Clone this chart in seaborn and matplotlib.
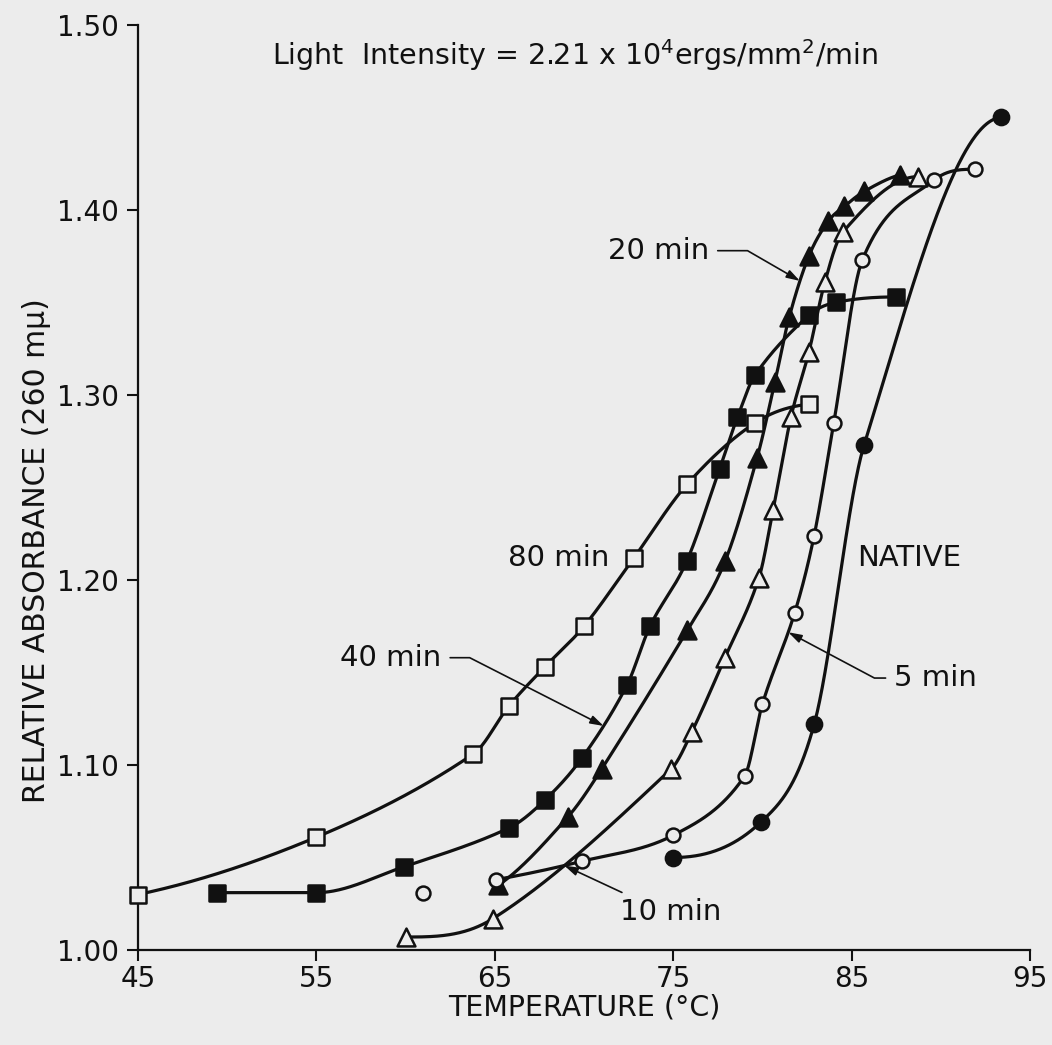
import numpy as np
import matplotlib
matplotlib.use("Agg")
import matplotlib.pyplot as plt
import seaborn as sns

# ---------------- data ----------------
temp_80 = [45.0, 55.0, 63.8, 65.8, 67.8, 70.0, 72.8, 75.8, 79.6, 82.6]
abs_80 = [1.030, 1.061, 1.106, 1.132, 1.153, 1.175, 1.212, 1.252, 1.285, 1.295]

temp_40 = [49.4, 55.0, 59.9, 65.8, 67.8, 69.9, 72.4, 73.7, 75.75, 77.6, 78.6, 79.6, 82.6, 84.1, 87.5]
abs_40 = [1.031, 1.031, 1.045, 1.066, 1.081, 1.104, 1.143, 1.175, 1.210, 1.260, 1.288, 1.311, 1.343, 1.350, 1.353]

temp_20 = [65.2, 69.1, 71.0, 75.8, 77.9, 79.7, 80.7, 81.5, 82.6, 83.7, 84.6, 85.7, 87.7]
abs_20 = [1.035, 1.072, 1.098, 1.173, 1.210, 1.266, 1.307, 1.342, 1.375, 1.394, 1.402, 1.410, 1.419]

temp_10 = [60.0, 64.9, 74.9, 76.05, 77.9, 79.8, 80.6, 81.6, 82.6, 83.5, 84.5, 88.7]
abs_10 = [1.007, 1.017, 1.098, 1.118, 1.158, 1.201, 1.238, 1.288, 1.323, 1.361, 1.388, 1.418]

temp_5 = [65.05, 69.9, 75.0, 79.0, 80.0, 81.8, 82.9, 84.0, 85.6, 89.6, 91.9]
abs_5 = [1.038, 1.048, 1.062, 1.094, 1.133, 1.182, 1.224, 1.285, 1.373, 1.416, 1.422]
temp_5_extra = [61.0]
abs_5_extra = [1.031]

temp_native = [75.0, 79.9, 82.9, 85.7, 93.4]
abs_native = [1.050, 1.069, 1.122, 1.273, 1.450]

x_ticks = [45, 55, 65, 75, 85, 95]
y_ticks = [1.00, 1.10, 1.20, 1.30, 1.40, 1.50]
y_tick_labels = ["1.00", "1.10", "1.20", "1.30", "1.40", "1.50"]


# ---------------- smooth monotone curve through the points ----------------
def smooth_curve(x, y, xs):
    """Monotone cubic Hermite: chord (cardinal) slopes inside, PCHIP-style
    slopes at the ends, Fritsch-Carlson limiting."""
    x = np.asarray(x, float)
    y = np.asarray(y, float)
    xs = np.asarray(xs, float)
    h = np.diff(x)
    d = np.diff(y) / h
    n = len(x)
    m = np.zeros(n)
    for k in range(1, n - 1):
        if d[k - 1] * d[k] <= 0:
            m[k] = 0.0
        else:
            m[k] = (y[k + 1] - y[k - 1]) / (x[k + 1] - x[k - 1])

    def end(h0, h1, d0, d1):
        v = ((2 * h0 + h1) * d0 - h0 * d1) / (h0 + h1)
        if np.sign(v) != np.sign(d0):
            v = 0.0
        elif np.sign(d0) != np.sign(d1) and abs(v) > abs(3 * d0):
            v = 3 * d0
        return v

    if n > 2:
        m[0] = end(h[0], h[1], d[0], d[1])
        m[-1] = end(h[-1], h[-2], d[-1], d[-2])
    else:
        m[:] = d[0]
    for k in range(n - 1):
        if d[k] == 0:
            m[k] = 0.0
            m[k + 1] = 0.0
            continue
        a = m[k] / d[k]
        b = m[k + 1] / d[k]
        s = a * a + b * b
        if s > 9:
            tau = 3 / np.sqrt(s)
            m[k] = tau * a * d[k]
            m[k + 1] = tau * b * d[k]
    idx = np.clip(np.searchsorted(x, xs) - 1, 0, n - 2)
    t = (xs - x[idx]) / h[idx]
    h00 = 2 * t**3 - 3 * t**2 + 1
    h10 = t**3 - 2 * t**2 + t
    h01 = -2 * t**3 + 3 * t**2
    h11 = t**3 - t**2
    return h00 * y[idx] + h10 * h[idx] * m[idx] + h01 * y[idx + 1] + h11 * h[idx] * m[idx + 1]


# ---------------- styling ----------------
sns.set_theme(style="ticks")
plt.rcParams["font.family"] = ["DejaVu Sans"]
BG = "#ececec"
INK = "#111111"

fig = plt.figure(figsize=(10.52, 10.45), dpi=100, facecolor=BG)
ax = fig.add_axes([0.1312, 0.0909, 0.8479, 0.8852])
ax.set_facecolor(BG)

series = [
    (temp_80, abs_80, "s", False, 125),
    (temp_40, abs_40, "s", True, 125),
    (temp_20, abs_20, "^", True, 165),
    (temp_10, abs_10, "^", False, 165),
    (temp_5, abs_5, "o", False, 100),
    (temp_native, abs_native, "o", True, 120),
]

for xs_, ys_, mk, filled, size in series:
    grid = np.linspace(xs_[0], xs_[-1], 600)
    sns.lineplot(x=grid, y=smooth_curve(xs_, ys_, grid), ax=ax, color=INK, lw=2.3,
                 estimator=None, sort=False, zorder=2)
    sns.scatterplot(x=xs_, y=ys_, ax=ax, marker=mk, s=size,
                    facecolor=INK if filled else BG, edgecolor=INK,
                    linewidth=1.8, zorder=3, clip_on=False)

sns.scatterplot(x=temp_5_extra, y=abs_5_extra, ax=ax, marker="o", s=100,
                facecolor=BG, edgecolor=INK, linewidth=1.8, zorder=3)

ax.set_xlim(45, 95)
ax.set_ylim(1.0, 1.5)
ax.set_xticks(x_ticks)
ax.set_yticks(y_ticks)
ax.set_yticklabels(y_tick_labels)
ax.tick_params(direction="out", length=8, width=1.5, labelsize=20, colors=INK)
ax.tick_params(axis="x", pad=3)
ax.tick_params(axis="y", pad=6)
for side in ["top", "right"]:
    ax.spines[side].set_visible(False)
for side in ["left", "bottom"]:
    ax.spines[side].set_linewidth(1.6)
    ax.spines[side].set_color(INK)
ax.grid(False)

ax.set_xlabel("TEMPERATURE (°C)", fontsize=20.5, color=INK, labelpad=0)
ax.set_ylabel("RELATIVE ABSORBANCE (260 mμ)", fontsize=21.5, color=INK)
ax.yaxis.set_label_coords(-0.098, 0.432)

# note at the top of the plot
ax.text(69.5, 1.484, r"Light  Intensity = 2.21 x 10$^4$ergs/mm$^2$/min",
        fontsize=20.5, ha="center", va="center", color=INK)

# plain labels
ax.text(71.4, 1.212, "80 min", fontsize=21, ha="right", va="center", color=INK)
ax.text(85.3, 1.212, "NATIVE", fontsize=21, ha="left", va="center", color=INK)


def pointer(text, text_xy, ha, series_x, series_y, tip_x, angle_b):
    tip = (tip_x, float(smooth_curve(series_x, series_y, [tip_x])[0]))
    ax.annotate(text, xy=tip, xytext=text_xy, fontsize=21, ha=ha, va="center",
                color=INK,
                arrowprops=dict(arrowstyle="-|>,head_length=0.8,head_width=0.25",
                                mutation_scale=10, color=INK, lw=1.2,
                                shrinkA=4, shrinkB=0,
                                connectionstyle=f"angle,angleA=0,angleB={angle_b},rad=0"))


pointer("20 min", (77.0, 1.378), "right", temp_20, abs_20, 82.1, 150)
pointer("40 min", (62.0, 1.158), "right", temp_40, abs_40, 71.1, 153)
pointer("10 min", (72.0, 1.0205), "left", temp_10, abs_10, 68.9, 155)
pointer("5 min", (87.4, 1.147), "left", temp_5, abs_5, 81.45, 152)

fig.savefig("out.png", dpi=100, facecolor=BG)
